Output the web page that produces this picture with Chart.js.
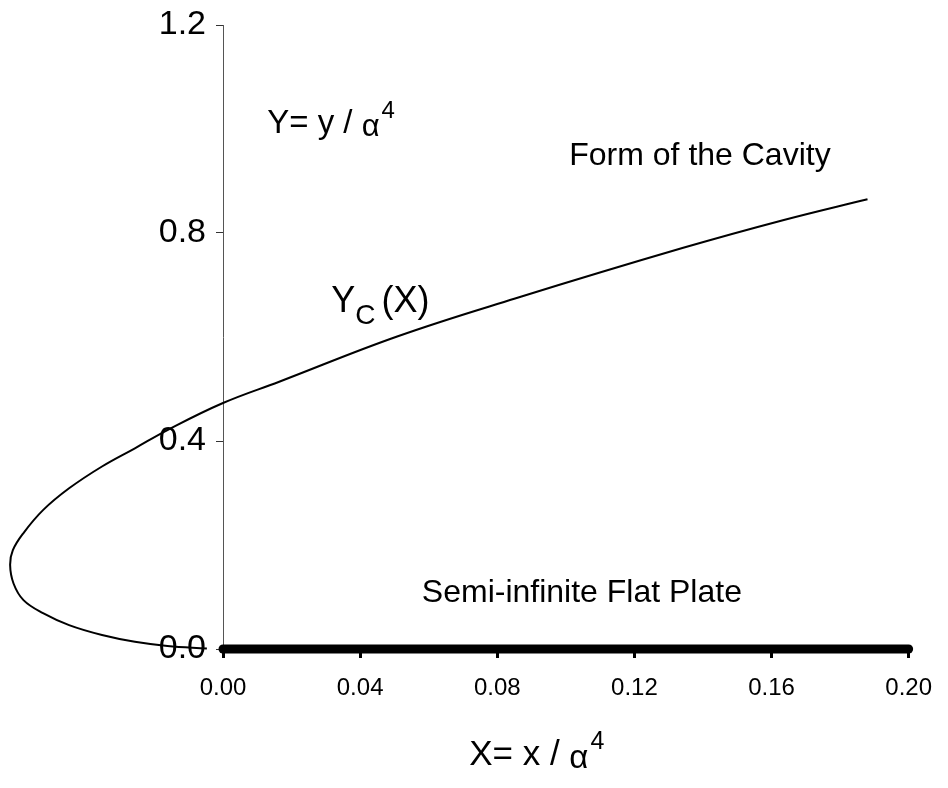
<!DOCTYPE html>
<html lang="en">
<head>
<meta charset="UTF-8">
<title>Form of the Cavity</title>
<script src="https://cdn.jsdelivr.net/npm/chart.js"></script>
<style>
    body { margin: 0; background: #ffffff; }
    #wrap { width: 948px; height: 788px; }
</style>
</head>
<body>
<div id="wrap"><canvas id="cavityChart"></canvas></div>
<script>
// cavity outline Yc(X), in drawing order (plate end -> nose -> upper branch)
const cavityX = [-0.0047, -0.0162, -0.0257, -0.0353, -0.0449, -0.0525, -0.0582, -0.0611, -0.0621, -0.0613,
                 -0.0582, -0.0525, -0.0449, -0.0353, -0.0257, -0.0162, 0.000, 0.0164, 0.0508, 0.0852,
                 0.134, 0.1636, 0.188];
const cavityY = [0.001, 0.006, 0.014, 0.027, 0.046, 0.069, 0.094, 0.126, 0.162, 0.190,
                 0.223, 0.267, 0.309, 0.351, 0.386, 0.421, 0.473, 0.514, 0.601, 0.674,
                 0.771, 0.825, 0.865];
// the plate
const plateX = [0, 0.20];
const plateY = [0, 0];
const xTicks = [0, 0.04, 0.08, 0.12, 0.16, 0.20];
const yTicks = [0, 0.4, 0.8, 1.2];

const font = "'Liberation Sans', Arial, sans-serif";

function toPoints(xs, ys) {
    return xs.map((x, i) => ({ x: x, y: ys[i] }));
}

// text with "/ alpha^4" tail
function drawRatio(ctx, lead, x, y, size) {
    ctx.font = size + 'px ' + font;
    ctx.fillText(lead, x, y);
    x += ctx.measureText(lead).width;
    ctx.font = Math.round(size * 0.95) + 'px ' + font;
    ctx.fillText('α', x, y + 3);
    x += ctx.measureText('α').width + 2;
    ctx.font = Math.round(size * 0.72) + 'px ' + font;
    ctx.fillText('4', x, y - size * 0.45);
}

const annotations = {
    id: 'annotations',
    afterDraw(chart) {
        const ctx = chart.ctx;
        const xs = chart.scales.x, ys = chart.scales.y;
        ctx.save();
        ctx.fillStyle = '#000';
        ctx.textBaseline = 'alphabetic';
        ctx.textAlign = 'left';

        drawRatio(ctx, 'Y= y / ', xs.getPixelForValue(0.0129), ys.getPixelForValue(0.992), 33);

        ctx.font = '32px ' + font;
        ctx.fillText('Form of the Cavity', xs.getPixelForValue(0.101), ys.getPixelForValue(0.931));
        ctx.fillText('Semi-infinite Flat Plate', xs.getPixelForValue(0.058), ys.getPixelForValue(0.090));

        // Yc (X)
        let px = xs.getPixelForValue(0.0316), py = ys.getPixelForValue(0.648);
        ctx.font = '36px ' + font;
        ctx.fillText('Y', px, py);
        px += ctx.measureText('Y').width;
        ctx.font = '28px ' + font;
        ctx.fillText('C', px, py + 12);
        px += ctx.measureText('C').width + 6;
        ctx.font = '36px ' + font;
        ctx.fillText('(X)', px, py);

        // x axis title
        drawRatio(ctx, 'X= x / ', xs.getPixelForValue(0.0718), chart.chartArea.bottom + 116, 35);
        ctx.restore();
    }
};

new Chart(document.getElementById('cavityChart'), {
    type: 'scatter',
    data: {
        datasets: [{
            label: 'Form of the Cavity',
            data: toPoints(cavityX, cavityY),
            showLine: true,
            borderColor: '#000',
            borderWidth: 2,
            pointRadius: 0,
            tension: 0.4,
            capBezierPoints: false,
            clip: false
        }, {
            label: 'Semi-infinite Flat Plate',
            data: toPoints(plateX, plateY),
            showLine: true,
            borderColor: '#000',
            borderWidth: 9,
            borderCapStyle: 'round',
            pointRadius: 0,
            clip: false
        }]
    },
    options: {
        responsive: true,
        maintainAspectRatio: false,
        animation: false,
        layout: { padding: { top: 25, right: 28, left: 0, bottom: 0 } },
        elements: { line: { capBezierPoints: false } },
        plugins: { legend: { display: false }, tooltip: { enabled: false } },
        scales: {
            x: {
                type: 'linear',
                min: 0,
                max: 0.20,
                afterBuildTicks: s => { s.ticks = xTicks.map(v => ({ value: v })); },
                afterFit: s => { s.height = 139; },
                border: { display: false },
                grid: { drawOnChartArea: false, drawTicks: true, tickLength: 9, lineWidth: 3, color: '#000' },
                ticks: {
                    color: '#000',
                    padding: 16,
                    font: { family: font, size: 24 },
                    callback: v => v.toFixed(2)
                }
            },
            y: {
                type: 'linear',
                position: 'left',
                min: 0,
                max: 1.2,
                afterBuildTicks: s => { s.ticks = yTicks.map(v => ({ value: v })); },
                afterFit: s => { s.width = 223; s.paddingTop = 0; s.paddingBottom = 0; },
                border: { display: true, color: '#555', width: 1 },
                grid: { drawOnChartArea: false, drawTicks: true, tickLength: 7, color: '#333' },
                ticks: {
                    color: '#000',
                    padding: 10,
                    font: { family: font, size: 34 },
                    callback: v => v.toFixed(1)
                }
            }
        }
    },
    plugins: [annotations]
});
</script>
</body>
</html>
